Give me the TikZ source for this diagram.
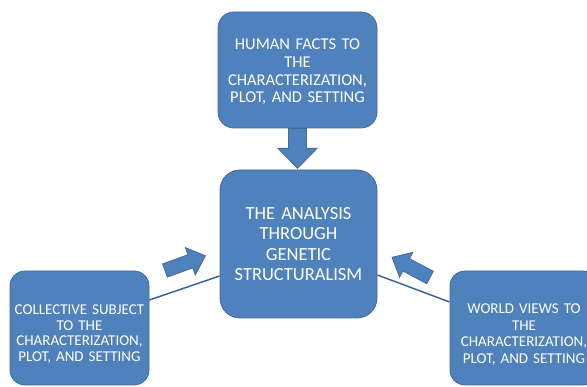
\documentclass[tikz,border=0pt]{standalone}
\usepackage{fontspec}
\setmainfont{Carlito}
\definecolor{boxblue}{HTML}{4F81BD}
\definecolor{boxedge}{HTML}{41699C}
\definecolor{linkblue}{HTML}{3D6396}
\tikzset{
  box/.style={draw=boxedge, line width=0.8pt, fill=boxblue, text=white, align=center, inner sep=2pt},
  blockarrow/.style={draw=boxedge, line width=0.8pt, fill=boxblue},
  link/.style={draw=linkblue, line width=1.5pt}
}
\begin{document}
\begin{tikzpicture}[x=1pt, y=-1pt]
    \clip (0,0) rectangle (587,387);

    % the four boxes
    \node[box, rounded corners=16pt, text width=155pt, minimum height=116pt,
          font=\fontsize{16.5}{17.7}\selectfont] (human) at (297.5,70)
          {\rule{0pt}{15pt}HUMAN FACTS TO\\ THE\\ CHARACTERIZATION,\\ PLOT, AND SETTING};
    \node[box, rounded corners=20pt, text width=153pt, minimum height=148pt,
          font=\fontsize{18.5}{20.6}\selectfont] (analysis) at (298.5,244)
          {THE ANALYSIS\\ THROUGH\\ GENETIC\\ STRUCTURALISM};
    \node[box, rounded corners=15pt, text width=135pt, minimum height=114pt,
          font=\fontsize{15}{15.8}\selectfont] (collective) at (79.5,328)
          {\rule{0pt}{22pt}COLLECTIVE SUBJECT\\ TO THE\\ CHARACTERIZATION,\\ PLOT, AND SETTING};
    \node[box, rounded corners=15pt, text width=144pt, minimum height=114pt,
          font=\fontsize{15}{16.5}\selectfont] (world) at (524,328)
          {\rule{0pt}{23pt}WORLD VIEWS TO\\ THE\\ CHARACTERIZATION,\\ PLOT, AND SETTING};

    % thin lines to the side boxes
    \draw[link] ([yshift=28pt]collective.east) -- ([yshift=-32pt]analysis.west);
    \draw[link] ([yshift=-31pt]analysis.east) -- ([yshift=26pt]world.west);

    % block arrows
    \draw[blockarrow, shift={(human.south)}, rotate=-90]
      (0,-9) -- (20,-9) -- (20,-19.5) -- (40,0) -- (20,19.5) -- (20,9) -- (0,9) -- cycle;
    \draw[blockarrow, shift={(165,270.5)}, rotate=20]
      (0,-7) -- (27,-7) -- (27,-14.5) -- (43,0) -- (27,14.5) -- (27,7) -- (0,7) -- cycle;
    \draw[blockarrow, shift={(430,277.5)}, rotate=152]
      (0,-7) -- (27,-7) -- (27,-14) -- (43,0) -- (27,14) -- (27,7) -- (0,7) -- cycle;
\end{tikzpicture}
\end{document}
